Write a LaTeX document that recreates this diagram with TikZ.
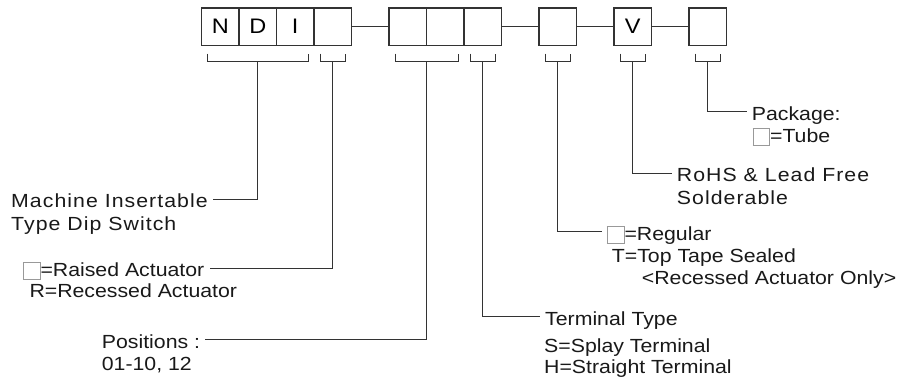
\documentclass[tikz,border=0pt]{standalone}
\usepackage{fontspec}
\setmainfont{Liberation Sans}[FakeStretch=1.12]
\newfontfamily\spaced{Liberation Sans}[FakeStretch=1.12,LetterSpace=5.5]
\usetikzlibrary{calc}
\newcommand{\emptysq}{\raisebox{-2.5pt}{\textcolor{black!40}{\setlength{\fboxsep}{0pt}\setlength{\fboxrule}{0.8pt}\fbox{\rule{0pt}{16pt}\rule{16pt}{0pt}}}}}

\begin{document}
\begin{tikzpicture}[x=1pt,y=-1pt,
  cell/.style={draw=black!80,line width=1.1pt,minimum size=37.5pt,inner sep=0pt,outer sep=0pt,font=\fontsize{21}{25}\selectfont},
  lbl/.style={anchor=base west,inner xsep=5pt,inner ysep=0pt,text height=17pt,text depth=0pt,text=black!90,font=\fontsize{19}{22}\selectfont},
  wide/.style={lbl,font={\spaced\fontsize{19}{22}\selectfont}},
  lead/.style={draw=black!80,line width=1pt}]
  \useasboundingbox (0,0) rectangle (911,381);
  % code boxes
  \foreach \k/\t in {0/N,1/D,2/I,3/,5/,6/,7/,9/,11/V,13/}
    \node[cell] (b\k) at (220.25+37.5*\k,26.75) {\t};
  \foreach \a/\b in {3/5,7/9,9/11,11/13}
    \draw[lead] (b\a.east) -- (b\b.west);
  % brackets under the fields
  \foreach \a/\b/\n in {0/2/p1,3/3/p2,5/6/p3,7/7/p4,9/9/p5,11/11/p6,13/13/p7}{
    \draw[lead] ($(b\a.south west)+(6,8)$) -- ++(0,7.5) -| ($(b\b.south east)+(-6,8)$);
    \coordinate (\n) at ($(b\a.south west)!0.5!(b\b.south east)+(0,15.5)$);
  }
  % left labels
  \node[wide] (mach) at (6,207.7) {Machine Insertable};
  \node[wide] (mach2) at (6,230) {Type Dip Switch};
  \node[lbl] (raised) at (17.7,276.7) {\emptysq=Raised Actuator};
  \node[lbl] (raised2) at (24.3,297.3) {R=Recessed Actuator};
  \node[lbl] (pos) at (96.7,348.3) {Positions :};
  \node[lbl] (pos2) at (96.7,370) {01-10, 12};
  % right labels
  \node[lbl] (term) at (540,325.3) {Terminal Type};
  \node[lbl] (term2) at (539,352.5) {S=Splay Terminal};
  \node[lbl] (term3) at (539,373.3) {H=Straight Terminal};
  \node[lbl] (reg) at (601.7,240) {\emptysq=Regular};
  \node[lbl] (reg2) at (606.7,262.7) {T=Top Tape Sealed};
  \node[lbl] (reg3) at (636.7,284.3) {<Recessed Actuator Only>};
  \node[wide] (rohs) at (671.7,181.7) {RoHS \& Lead Free};
  \node[wide] (rohs2) at (671.7,204) {Solderable};
  \node[lbl] (pack) at (746.7,120) {Package:};
  \node[lbl] (pack2) at (747.3,142) {\emptysq=Tube};
  % leaders
  \draw[lead] (p1) |- (mach.east);
  \draw[lead] (p2) |- (raised.east);
  \draw[lead] (p3) |- (pos.east);
  \draw[lead] (p4) |- (term.west);
  \draw[lead] (p5) |- (reg.west);
  \draw[lead] (p6) |- (rohs.west);
  \draw[lead] (p7) |- (pack.west);
\end{tikzpicture}
\end{document}
